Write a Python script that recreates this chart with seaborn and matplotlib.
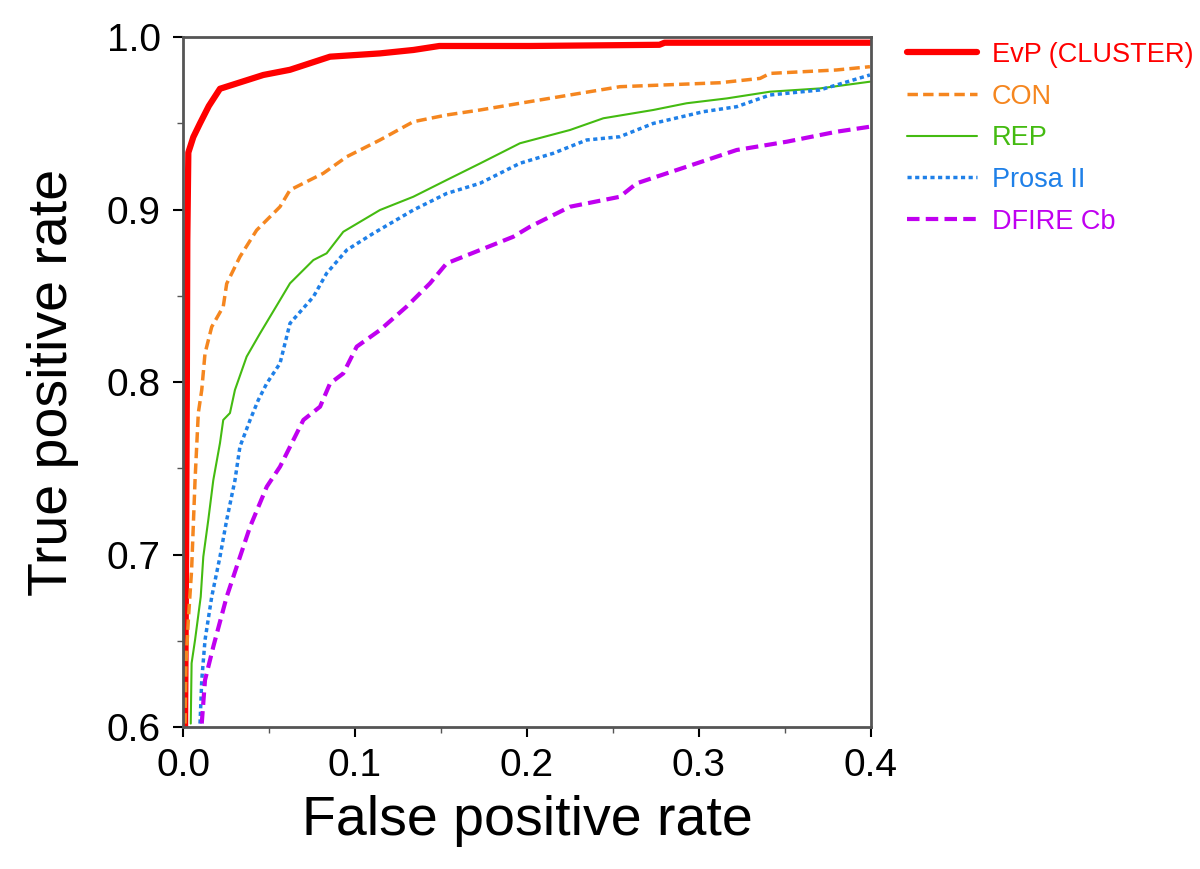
import numpy as np
import pandas as pd
import matplotlib
matplotlib.use("Agg")
import matplotlib.pyplot as plt
import seaborn as sns
from matplotlib.ticker import MultipleLocator, FormatStrFormatter

# ROC curves (false positive rate, true positive rate)
evp_fpr = [0.0012, 0.0018, 0.0022, 0.0025, 0.0031, 0.006, 0.0099, 0.015, 0.0215, 0.0467,
           0.0622, 0.0855, 0.1145, 0.134, 0.149, 0.2017, 0.277, 0.28, 0.4]
evp_tpr = [0.600, 0.700, 0.790, 0.882, 0.933, 0.942, 0.950, 0.960, 0.970, 0.978,
           0.981, 0.9886, 0.9905, 0.9925, 0.9948, 0.9948, 0.9955, 0.9967, 0.9967]

con_fpr = [0.0012, 0.0017, 0.0031, 0.005, 0.007, 0.0089, 0.0109, 0.0128, 0.0167, 0.0234,
           0.0254, 0.0331, 0.0428, 0.0564, 0.0622, 0.0816, 0.0952, 0.1145, 0.1339, 0.1533,
           0.1727, 0.1959, 0.254, 0.3122, 0.3355, 0.3413, 0.38, 0.3994]
con_tpr = [0.602, 0.637, 0.662, 0.691, 0.743, 0.782, 0.7954, 0.8166, 0.832, 0.8437,
           0.857, 0.8726, 0.888, 0.9016, 0.9113, 0.921, 0.9306, 0.9403, 0.9509, 0.9548,
           0.9577, 0.9616, 0.9712, 0.9735, 0.976, 0.9789, 0.9809, 0.9828]

rep_fpr = [0.0045, 0.005, 0.007, 0.0103, 0.0118, 0.0147, 0.0176, 0.0215, 0.0234, 0.0273,
           0.0302, 0.037, 0.0448, 0.0564, 0.0622, 0.0758, 0.0835, 0.0932, 0.1145, 0.1339,
           0.1533, 0.1727, 0.1959, 0.225, 0.2444, 0.2734, 0.2928, 0.3161, 0.3413, 0.3703,
           0.3994]
rep_tpr = [0.602, 0.637, 0.6504, 0.6755, 0.6987, 0.720, 0.743, 0.7646, 0.778, 0.782,
           0.7954, 0.8147, 0.8282, 0.8475, 0.8572, 0.8707, 0.8746, 0.8871, 0.8997, 0.9074,
           0.9171, 0.9267, 0.9384, 0.9461, 0.9529, 0.9577, 0.9616, 0.9644, 0.9683, 0.9702,
           0.9741]

prosa_fpr = [0.0099, 0.0109, 0.0128, 0.0167, 0.0215, 0.0254, 0.0302, 0.0331, 0.039, 0.0438,
             0.0487, 0.0564, 0.0622, 0.0758, 0.0835, 0.0952, 0.1107, 0.1339, 0.1533, 0.1727,
             0.1959, 0.2153, 0.2347, 0.254, 0.2734, 0.3025, 0.3219, 0.3413, 0.3703, 0.3897,
             0.3994]
prosa_tpr = [0.602, 0.6272, 0.6504, 0.6755, 0.6987, 0.720, 0.743, 0.7625, 0.778, 0.7896,
             0.7992, 0.8108, 0.834, 0.8494, 0.863, 0.8765, 0.8862, 0.8997, 0.9093, 0.9152,
             0.9268, 0.9326, 0.9403, 0.9422, 0.9499, 0.9567, 0.9596, 0.9664, 0.9693, 0.9751,
             0.978]

dfire_fpr = [0.0109, 0.0128, 0.0176, 0.0254, 0.0312, 0.039, 0.0487, 0.0564, 0.070, 0.0797,
             0.0855, 0.0932, 0.101, 0.1145, 0.130, 0.1436, 0.1533, 0.1727, 0.192, 0.2017,
             0.225, 0.254, 0.2638, 0.2928, 0.3219, 0.351, 0.38, 0.3994]
dfire_tpr = [0.602, 0.6272, 0.6465, 0.6755, 0.6929, 0.7161, 0.7393, 0.7509, 0.778, 0.7857,
             0.7992, 0.805, 0.8205, 0.8301, 0.8437, 0.8572, 0.8688, 0.8765, 0.8842, 0.890,
             0.9016, 0.9074, 0.9152, 0.9248, 0.9345, 0.9393, 0.9451, 0.948]

labels = ["EvP (CLUSTER)", "CON", "REP", "Prosa II", "DFIRE Cb"]
colors = ["#ff0000", "#f5861f", "#44bb11", "#1f80e8", "#c000f0"]
widths = [4.5, 2.5, 1.5, 2.5, 3.0]
styles = ["-", (0, (3, 1.5)), "-", (0, (1.2, 1.0)), (0, (3, 1.5))]

curves = [(evp_fpr, evp_tpr), (con_fpr, con_tpr), (rep_fpr, rep_tpr),
          (prosa_fpr, prosa_tpr), (dfire_fpr, dfire_tpr)]

sns.set_style("ticks")
plt.rcParams['font.family'] = ['Liberation Sans', 'DejaVu Sans']
plt.rcParams['text.color'] = 'black'
plt.rcParams['axes.labelcolor'] = 'black'

fig = plt.figure(figsize=(12, 8.69), dpi=100)
ax = fig.add_axes([0.1525, 0.1634, 0.7258 - 0.1525, 0.9574 - 0.1634])

for (fx, ty), lab, col, lw, ls in zip(curves, labels, colors, widths, styles):
    df = pd.DataFrame({'fpr': fx, 'tpr': ty})
    sns.lineplot(data=df, x='fpr', y='tpr', ax=ax, color=col, linewidth=lw,
                 linestyle=ls, label=lab, estimator=None, sort=False)

ax.set_xlim(0, 0.4)
ax.set_ylim(0.6, 1.0)
ax.xaxis.set_major_locator(MultipleLocator(0.1))
ax.xaxis.set_minor_locator(MultipleLocator(0.05))
ax.yaxis.set_major_locator(MultipleLocator(0.1))
ax.yaxis.set_minor_locator(MultipleLocator(0.05))
ax.xaxis.set_major_formatter(FormatStrFormatter('%.1f'))
ax.yaxis.set_major_formatter(FormatStrFormatter('%.1f'))
ax.tick_params(which='major', direction='out', length=7, width=1.5, labelsize=28,
               colors='black')
ax.tick_params(axis='y', which='major', pad=9)
ax.tick_params(axis='x', which='major', pad=8)
ax.tick_params(which='minor', direction='out', length=4, width=1.0, colors='#555555')

for s in ax.spines.values():
    s.set_visible(True)
    s.set_color('#555555')
    s.set_linewidth(2.0)

ax.set_xlabel('False positive rate', fontsize=40, labelpad=8)
ax.set_ylabel('True positive rate', fontsize=40, labelpad=20)

leg = ax.legend(loc='upper left', bbox_to_anchor=(1.052, 0.993), frameon=False,
                fontsize=19.5, handlelength=2.6, handletextpad=0.55,
                labelspacing=0.58, borderaxespad=0, borderpad=0,
                labelcolor='linecolor')

fig.savefig('out.png', dpi=100)
